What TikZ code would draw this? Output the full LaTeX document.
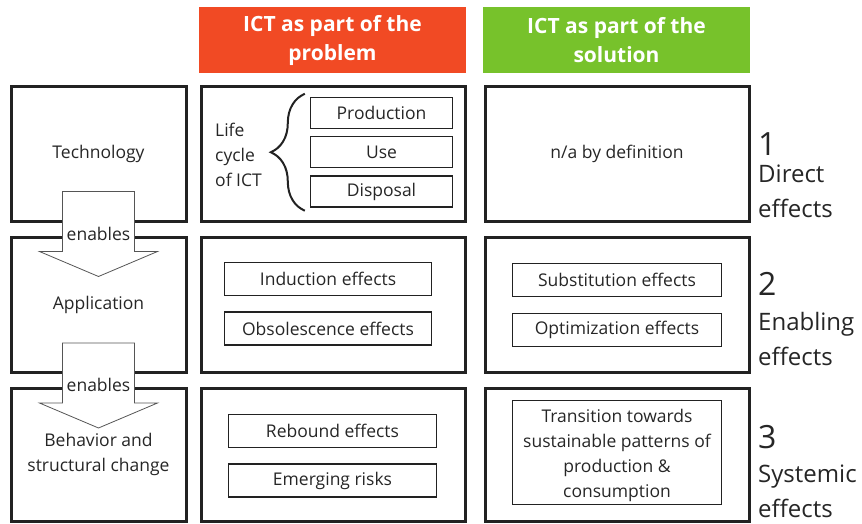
\documentclass[tikz,border=0pt]{standalone}
\usepackage{fontspec}
\setmainfont{Open Sans}
\usetikzlibrary{positioning,
	decorations.pathreplacing,
	calc}
\definecolor{probred}{HTML}{F14A24}
\definecolor{solgreen}{HTML}{77C22B}
\definecolor{framegray}{HTML}{222222}
\definecolor{arrowgray}{HTML}{555555}

\begin{document}
\begin{tikzpicture}[x=1pt, y=-1pt,
		bodytext/.style={font=\fontsize{17.5}{25}\selectfont, text=black!85, align=center},
		header/.style={minimum width=267, minimum height=66, inner sep=0pt, align=center,
			text=white, font=\bfseries\fontsize{21}{29}\selectfont},
		outerbox/.style={draw=framegray, line width=3pt, minimum height=134, inner sep=0pt, bodytext},
		innerbox/.style={draw=framegray, line width=1.4pt, minimum height=32, inner sep=0pt, bodytext},
		effectnum/.style={anchor=base west, inner sep=0pt, font=\fontsize{32}{34}\selectfont, text=black!85},
		effectname/.style={anchor=base west, inner sep=0pt, align=left, font=\fontsize{24}{35}\selectfont, text=black!85},
		blockarrow/.style={draw=arrowgray, line width=0.8pt, fill=white, line join=miter}]
	\useasboundingbox (0,0) rectangle (862,524);

	% column headers
	\node [header, fill=probred] (hprob) at (332.5,40) {ICT as part of the\\problem};
	\node [header, fill=solgreen] (hsol) at (616.5,40) {ICT as part of the\\solution};

	% left column
	\node [outerbox, minimum width=175] (tech) at (98.5,154) {Technology};
	\node [outerbox, minimum width=175, minimum height=135] (app) at (98.5,305) {Application};
	\node [outerbox, minimum width=175, minimum height=133] (beh) at (98.5,454.5) {Behavior and\\structural change};

	% problem column
	\node [outerbox, minimum width=264] (p1) at (333,154) {};
	\node [outerbox, minimum width=264, minimum height=135] (p2) at (333,305) {};
	\node [outerbox, minimum width=264, minimum height=133] (p3) at (333,454.5) {};

	\node [innerbox, minimum width=142, minimum height=31] (prod) at (381.5,113) {Production};
	\node [innerbox, minimum width=142, minimum height=31] (use) at (381.5,152) {Use};
	\node [innerbox, minimum width=142, minimum height=31] (disp) at (381.5,191.5) {Disposal};
	\node [bodytext, anchor=west, align=left, inner sep=0pt] (life) at (215,155) {Life\\cycle\\of ICT};
	\draw [line width=2pt, framegray, decorate, decoration={brace, amplitude=34}]
		($(disp.south west)+(-5,3)$) -- ($(prod.north west)+(-5,-3)$);

	\node [innerbox, minimum width=207, minimum height=33] (ind) at (328,279) {Induction effects};
	\node [innerbox, minimum width=207, minimum height=33] (obs) at (328,328.5) {Obsolescence effects};
	\node [innerbox, minimum width=208, minimum height=33] (reb) at (332.5,431) {Rebound effects};
	\node [innerbox, minimum width=208, minimum height=33] (risk) at (332.5,480.5) {Emerging risks};

	% solution column
	\node [outerbox, minimum width=264] (s1) at (617,154) {n/a by definition};
	\node [outerbox, minimum width=264, minimum height=135] (s2) at (617,305) {};
	\node [outerbox, minimum width=264, minimum height=133] (s3) at (617,454.5) {};

	\node [innerbox, minimum width=209, minimum height=33] (subst) at (617,280) {Substitution effects};
	\node [innerbox, minimum width=209, minimum height=33] (opt) at (617,330) {Optimization effects};
	\node [innerbox, minimum width=209, minimum height=104] (trans) at (617,452.5) {};
	\node [bodytext, inner sep=0pt] (transtext) at (617,455)
		{Transition towards\\sustainable patterns of\\production \&\\consumption};

	% effect levels
	\node [effectnum] (n1) at (758,155) {1};
	\node [effectname] (l1) at (758,217) {Direct\\effects};
	\node [effectnum] (n2) at (758,295) {2};
	\node [effectname] (l2) at (758,365) {Enabling\\effects};
	\node [effectnum] (n3) at (758,448) {3};
	\node [effectname] (l3) at (758,517) {Systemic\\effects};

	% enables arrows
	\foreach \src/\nm in {tech/ena, app/enb} {
		\coordinate (\nm top) at ($(\src.south)+(0,-31)$);
		\draw [blockarrow] (\nm top) ++(-36,0) -- ++(72,0) -- ++(0,60) -- ++(23,0)
			-- ++(-59,25) -- ++(-59,-25) -- ++(23,0) -- cycle;
		\node [bodytext, inner sep=0pt] (\nm) at ($(\nm top)+(0,42)$) {enables};
	}
\end{tikzpicture}
\end{document}
